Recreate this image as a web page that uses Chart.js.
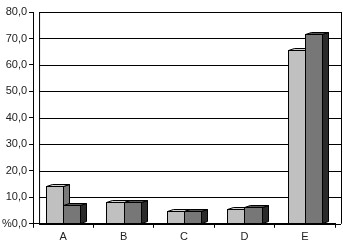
<!DOCTYPE html>
<html>
<head>
<meta charset="utf-8">
<script src="https://cdn.jsdelivr.net/npm/chart.js@4"></script>
<style>
  html, body { margin: 0; padding: 0; background: #fff; }
  #wrap { width: 343px; height: 250px; }
</style>
</head>
<body>
<div id="wrap"><canvas id="bar-chart"></canvas></div>
<script>
const categories = ['A', 'B', 'C', 'D', 'E'];
const seriesLight = [14.1, 8.3, 5.0, 5.7, 65.6];
const seriesDark = [7.2, 8.1, 5.0, 6.2, 71.8];
const tickValues = [0, 10, 20, 30, 40, 50, 60, 70, 80];

// depth of the fake 3D boxes
const DX = 6, DY = 2;

function fmt(v) {
    let s = v.toFixed(1).replace('.', ',');
    return v === 0 ? '%' + s : s;
}

const box3d = {
    id: 'box3d',
    beforeDatasetsDraw(chart) {
        const ctx = chart.ctx;
        const a = chart.chartArea;
        const y = chart.scales.y;
        ctx.save();
        ctx.strokeStyle = '#000';
        ctx.lineWidth = 1;
        ctx.beginPath();
        tickValues.forEach(function (v) {
            const py = Math.round(y.getPixelForValue(v)) + 0.5;
            ctx.moveTo(a.left + DX, py);
            ctx.lineTo(a.right + DX, py);
        });
        ctx.moveTo(a.left + DX + 0.5, a.top);
        ctx.lineTo(a.left + DX + 0.5, a.bottom);
        ctx.moveTo(a.right + DX + 0.5, a.top);
        ctx.lineTo(a.right + DX + 0.5, a.bottom);
        ctx.stroke();
        ctx.restore();
    },
    afterDatasetsDraw(chart) {
        const ctx = chart.ctx;
        const styles = [
            { front: '#c0c0c0', top: '#d0d0d0', side: '#7a7a7a' },
            { front: '#777777', top: '#555555', side: '#2a2a2a' }
        ];
        const metas = [chart.getDatasetMeta(0), chart.getDatasetMeta(1)];
        ctx.save();
        ctx.strokeStyle = '#000';
        ctx.lineWidth = 1;
        ctx.lineJoin = 'miter';
        for (let i = 0; i < categories.length; i++) {
            metas.forEach(function (meta, d) {
                const el = meta.data[i];
                const st = styles[d];
                const l = Math.round(el.x - el.width / 2) + 0.5;
                const r = Math.round(el.x + el.width / 2) + 0.5;
                const t = Math.round(el.y) + 0.5;
                const b = Math.round(el.base) + 0.5;
                // side
                ctx.beginPath();
                ctx.moveTo(r, t);
                ctx.lineTo(r + DX, t - DY);
                ctx.lineTo(r + DX, b - DY);
                ctx.lineTo(r, b);
                ctx.closePath();
                ctx.fillStyle = st.side;
                ctx.fill();
                ctx.stroke();
                // top
                ctx.beginPath();
                ctx.moveTo(l, t);
                ctx.lineTo(l + DX, t - DY);
                ctx.lineTo(r + DX, t - DY);
                ctx.lineTo(r, t);
                ctx.closePath();
                ctx.fillStyle = st.top;
                ctx.fill();
                ctx.stroke();
                // front
                ctx.fillStyle = st.front;
                ctx.fillRect(l, t, r - l, b - t);
                ctx.strokeRect(l, t, r - l, b - t);
            });
        }
        ctx.restore();
    }
};

new Chart(document.getElementById('bar-chart'), {
    type: 'bar',
    data: {
        labels: categories,
        datasets: [{
            label: 'Series 1',
            data: seriesLight,
            backgroundColor: 'rgba(0,0,0,0)'
        }, {
            label: 'Series 2',
            data: seriesDark,
            backgroundColor: 'rgba(0,0,0,0)'
        }]
    },
    plugins: [box3d],
    options: {
        responsive: true,
        maintainAspectRatio: false,
        animation: false,
        devicePixelRatio: 1,
        layout: { padding: { top: 12, right: 8, left: 0, bottom: 3 } },
        categoryPercentage: 0.57,
        barPercentage: 1.0,
        plugins: {
            legend: { display: false },
            tooltip: { enabled: false }
        },
        scales: {
            x: {
                grid: {
                    drawOnChartArea: false,
                    color: '#000',
                    tickLength: 4,
                    offset: true
                },
                border: { color: '#000' },
                ticks: {
                    color: '#222',
                    padding: 3,
                    font: { family: 'Liberation Sans', size: 11 }
                }
            },
            y: {
                min: 0,
                max: 80,
                afterBuildTicks: function (axis) {
                    axis.ticks = tickValues.map(v => ({ value: v }));
                },
                grid: {
                    drawOnChartArea: false,
                    color: '#000',
                    tickLength: 4
                },
                border: { color: '#000' },
                ticks: {
                    color: '#222',
                    padding: 2,
                    font: { family: 'Liberation Sans', size: 11 },
                    callback: function (v) { return fmt(v); }
                }
            }
        }
    }
});
</script>
</body>
</html>
